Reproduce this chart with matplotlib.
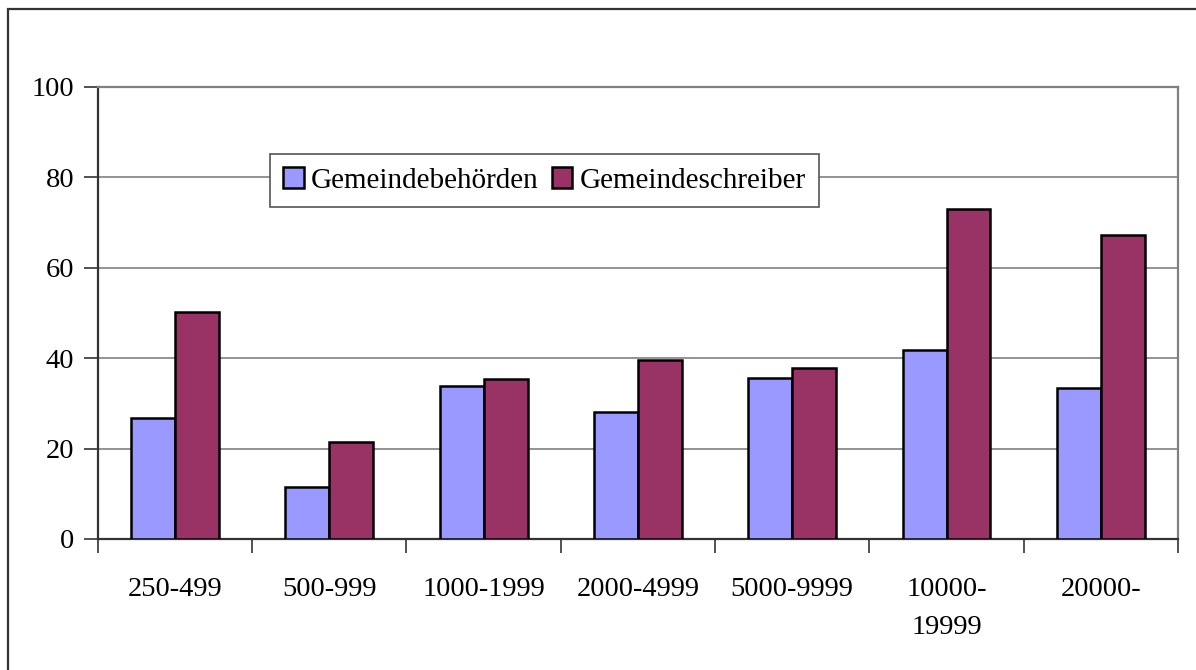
import matplotlib.pyplot as plt
from matplotlib.patches import Rectangle
import numpy as np

plt.rcParams['font.family'] = ['Liberation Serif', 'DejaVu Serif']

categories = ["250-499", "500-999", "1000-1999", "2000-4999", "5000-9999", "10000-\n19999", "20000-"]
behoerden = [26.7, 11.6, 33.9, 28.0, 35.6, 41.8, 33.3]
schreiber = [50.3, 21.4, 35.3, 39.6, 37.8, 73.0, 67.2]
series_names = ["Gemeindebehörden", "Gemeindeschreiber"]

blue = "#9999FF"
red = "#993366"

fig = plt.figure(figsize=(11.96, 6.70), dpi=100)
W, H = 1196, 670

# outer chart border (left and top visible)
fig.add_artist(Rectangle((8 / W, -0.1), 1.2, (670 - 9) / H + 0.1, transform=fig.transFigure,
                         fill=False, edgecolor="#333333", linewidth=1.6))

ax = fig.add_axes([97.7 / W, (670 - 539) / H, (1178 - 97.7) / W, (539 - 87) / H])

x = np.arange(len(categories))
w = 0.285
b1 = ax.bar(x - w / 2, behoerden, w, color=blue, edgecolor="black", linewidth=1.8, zorder=3,
            label=series_names[0])
b2 = ax.bar(x + w / 2, schreiber, w, color=red, edgecolor="black", linewidth=1.8, zorder=3,
            label=series_names[1])

ax.set_xlim(-0.5, len(categories) - 0.5)
ax.set_ylim(0, 100)
ax.set_yticks([0, 20, 40, 60, 80, 100])
ax.yaxis.grid(True, color="#808080", linewidth=1.2, zorder=0)

# ticks on category boundaries, labels on centres
ax.set_xticks(np.arange(-0.5, len(categories)), minor=False)
ax.set_xticklabels([])
ax.set_xticks(x, minor=True)
ax.set_xticklabels(categories, minor=True, fontsize=20.5, linespacing=1.7)
ax.tick_params(axis="x", which="major", length=10, width=1.2, direction="out", color="#333333")
ax.tick_params(axis="x", which="minor", length=0, pad=27)
ax.tick_params(axis="y", length=10, width=1.2, direction="out", color="#333333",
               labelsize=20.5, pad=7)

for side in ["left", "bottom"]:
    ax.spines[side].set_color("#333333")
    ax.spines[side].set_linewidth(1.6)
for side in ["top", "right"]:
    ax.spines[side].set_color("#808080")
    ax.spines[side].set_linewidth(1.6)

leg = fig.legend(handles=[b1, b2], loc="upper left",
                 bbox_to_anchor=(270 / W, (670 - 154) / H), ncol=2, fontsize=21,
                 frameon=True, fancybox=False, framealpha=1, edgecolor="#555555",
                 handlelength=0.7, handleheight=0.7, handletextpad=0.25,
                 columnspacing=0.45, borderpad=0.45, borderaxespad=0)
leg.get_frame().set_linewidth(1.2)

fig.savefig("out.png", dpi=100)
